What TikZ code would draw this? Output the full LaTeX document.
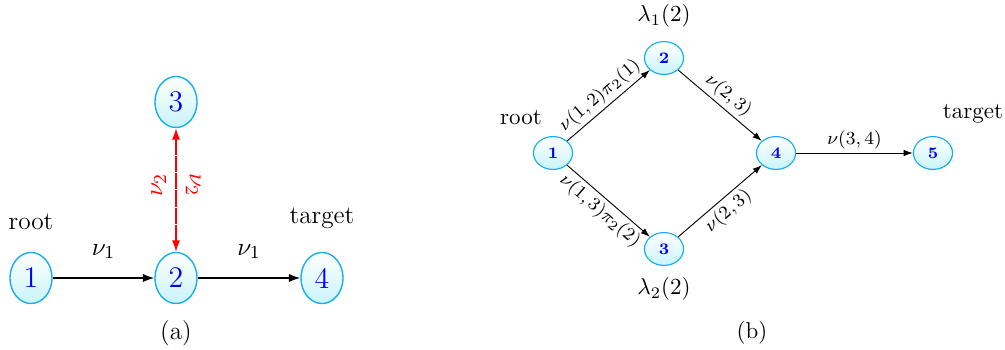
\documentclass[tikz,border=0pt]{standalone}
\usetikzlibrary{shapes.geometric,arrows.meta}
\definecolor{nodeborder}{RGB}{20,175,235}
\definecolor{nodefill}{RGB}{200,244,250}
\begin{document}
\begin{tikzpicture}[x=0.4348pt,y=-0.4348pt,
  nodeA/.style={ellipse,draw=nodeborder,line width=0.6pt,top color=white,bottom color=nodefill,minimum width=18.3pt,minimum height=22.2pt,inner sep=0pt,text=blue,font=\fontsize{13}{15}\selectfont},
  nodeB/.style={ellipse,draw=nodeborder,line width=0.5pt,top color=white,bottom color=nodefill,minimum width=17pt,minimum height=14.3pt,inner sep=0pt,text=blue,font=\scriptsize\bfseries},
  edgeA/.style={-{Latex[length=5pt,width=3.6pt]},line width=0.6pt},
  edgeB/.style={-{Latex[length=4pt,width=2.8pt]},line width=0.4pt},
  lab/.style={font=\fontsize{8.5}{10}\selectfont,sloped,inner sep=1.5pt},
  txtA/.style={inner sep=0pt,font=\fontsize{11}{13}\selectfont},
  txt/.style={inner sep=0pt}]
\useasboundingbox (0,0) rectangle (1005,349);
% ---- panel (a)
\node[nodeA] (a1) at (31,278) {1};
\node[nodeA] (a2) at (176,278) {2};
\node[nodeA] (a4) at (322,278) {4};
\node[nodeA] (a3) at (176,102) {3};
\node[txtA] (aroot) at (31,222) {root};
\node[txtA] (atarget) at (322,218) {target};
\node[txtA] (acap) at (176,333) {(a)};
\draw[edgeA] (a1) -- (a2) node[txtA,midway,above=8pt] {$\nu_1$};
\draw[edgeA] (a2) -- (a4) node[txtA,midway,above=8pt] {$\nu_1$};
\draw[red,{Latex[length=5pt,width=3.6pt]}-{Latex[length=5pt,width=3.6pt]},line width=0.7pt,dash pattern=on 7pt off 0.5pt]
  (a2) -- (a3)
  node[txtA,pos=0.54,xshift=-7.5pt,rotate=90] {$\nu_2$}
  node[txtA,pos=0.54,xshift=7.5pt,rotate=-90] {$\nu_2$};
% ---- panel (b)
\node[nodeB] (b1) at (553,153) {1};
\node[nodeB] (b2) at (664,58) {2};
\node[nodeB] (b3) at (664,249) {3};
\node[nodeB] (b4) at (776,153) {4};
\node[nodeB] (b5) at (933,153) {5};
\node[txt] (broot) at (521,118) {root};
\node[txt] (btarget) at (973,114) {target};
\node[txt] (blam1) at (664,16) {$\lambda_1(2)$};
\node[txt] (blam2) at (664,289) {$\lambda_2(2)$};
\node[txt] (bcap) at (752,333) {(b)};
\draw[edgeB] (b1) -- (b2) node[lab,midway,above] {$\nu(1,2)\pi_2(1)$};
\draw[edgeB] (b1) -- (b3) node[lab,midway,below] {$\nu(1,3)\pi_2(2)$};
\draw[edgeB] (b2) -- (b4) node[lab,midway,above] {$\nu(2,3)$};
\draw[edgeB] (b3) -- (b4) node[lab,midway,below] {$\nu(2,3)$};
\draw[edgeB] (b4) -- (b5) node[lab,midway,above] {$\nu(3,4)$};
\end{tikzpicture}
\end{document}
